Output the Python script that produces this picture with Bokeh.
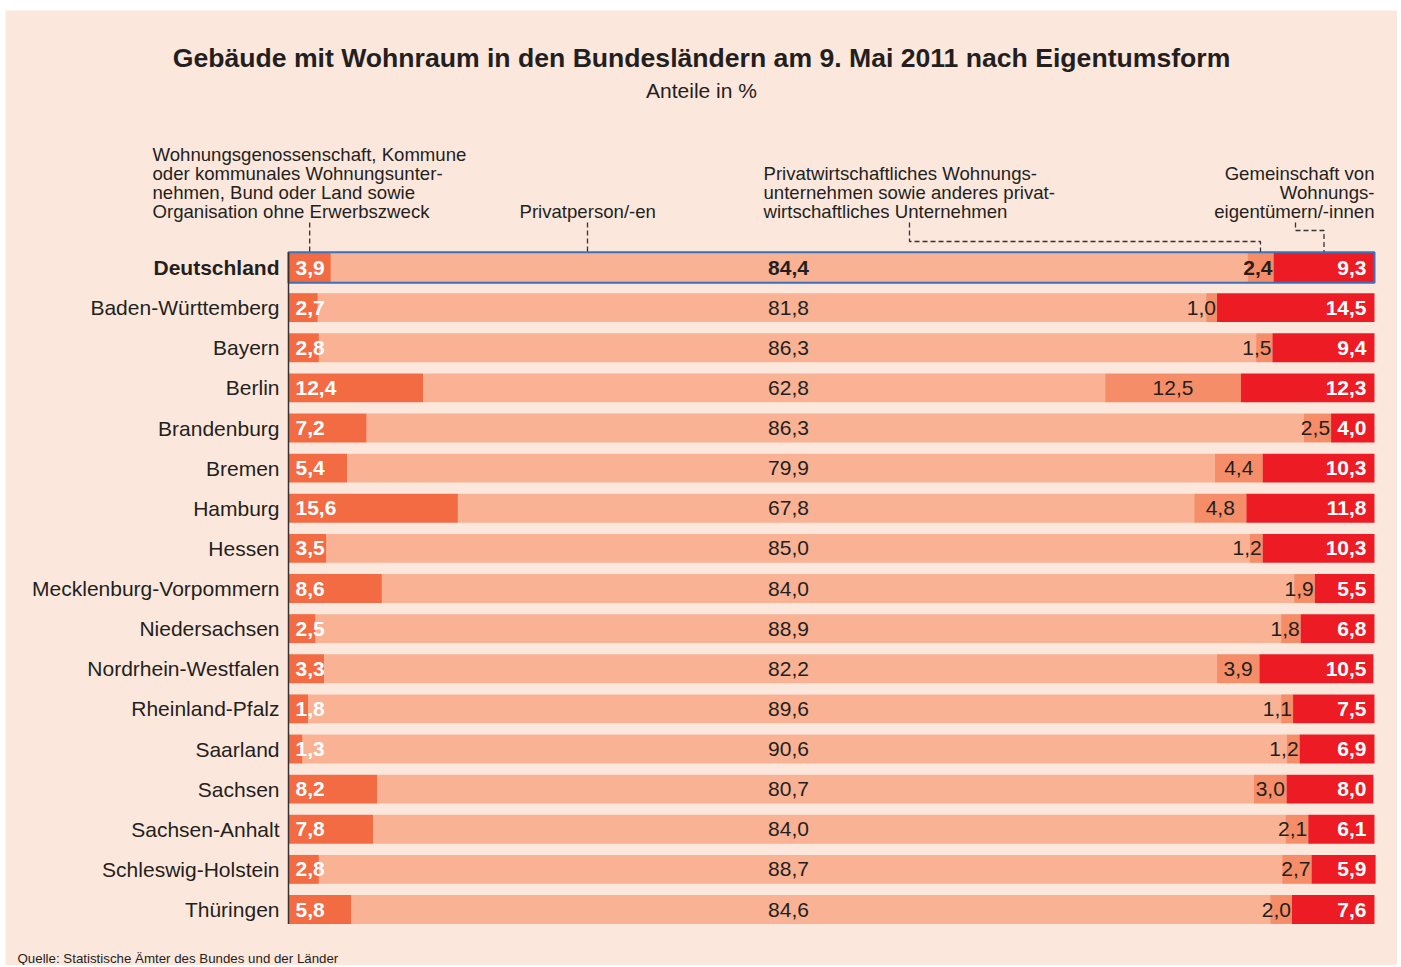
from bokeh.plotting import figure
from bokeh.models import ColumnDataSource, Range1d
from bokeh.core.properties import value
from bokeh.embed import file_html
from bokeh.resources import INLINE

# ---------------- data ----------------
states = ["Deutschland", "Baden-Württemberg", "Bayern", "Berlin", "Brandenburg",
          "Bremen", "Hamburg", "Hessen", "Mecklenburg-Vorpommern", "Niedersachsen",
          "Nordrhein-Westfalen", "Rheinland-Pfalz", "Saarland", "Sachsen",
          "Sachsen-Anhalt", "Schleswig-Holstein", "Thüringen"]
genossenschaft = [3.9, 2.7, 2.8, 12.4, 7.2, 5.4, 15.6, 3.5, 8.6, 2.5, 3.3, 1.8, 1.3, 8.2, 7.8, 2.8, 5.8]
privatperson = [84.4, 81.8, 86.3, 62.8, 86.3, 79.9, 67.8, 85.0, 84.0, 88.9, 82.2, 89.6, 90.6, 80.7, 84.0, 88.7, 84.6]
unternehmen = [2.4, 1.0, 1.5, 12.5, 2.5, 4.4, 4.8, 1.2, 1.9, 1.8, 3.9, 1.1, 1.2, 3.0, 2.1, 2.7, 2.0]
gemeinschaft = [9.3, 14.5, 9.4, 12.3, 4.0, 10.3, 11.8, 10.3, 5.5, 6.8, 10.5, 7.5, 6.9, 8.0, 6.1, 5.9, 7.6]

title_text = "Gebäude mit Wohnraum in den Bundesländern am 9. Mai 2011 nach Eigentumsform"
subtitle_text = "Anteile in %"
source_text = "Quelle: Statistische Ämter des Bundes und der Länder"

# ---------------- style ----------------
BG = "#FCE7DD"
COLORS = ["#F26B43", "#F9B294", "#F58D68", "#ED1C24"]
DARK = "#231F20"
FONT = value("Liberation Sans")

W, H = 1397, 965
FL, FT = 5, 10              # frame offset (white strip left / top)
X0, PX = 288.0, 10.86       # page px of 0 %, px per percent
Y0, ROW = 267.0, 40.125     # page px of first row centre, px per row


def cx(page_x):
    return (page_x - X0) / PX


def cy(page_y):
    return (page_y - Y0) / ROW


fmt = lambda v: f"{v:.1f}".replace(".", ",")

p = figure(width=W, height=H, output_backend="svg", toolbar_location=None,
           x_range=Range1d(cx(FL), cx(W)),
           y_range=Range1d(cy(H), cy(FT)),
           min_border=0, min_border_left=FL, min_border_right=0,
           min_border_top=FT, min_border_bottom=0)
p.axis.visible = False
p.grid.visible = False
p.outline_line_color = None
p.background_fill_color = BG
p.border_fill_color = "white"

n = len(states)
rows = list(range(n))
series = [genossenschaft, privatperson, unternehmen, gemeinschaft]
lefts = []
rights = []
acc = [0.0] * n
for s in series:
    l = list(acc)
    r = [a + v for a, v in zip(acc, s)]
    lefts.append(l)
    rights.append(r)
    acc = r

BAR_H = 0.72
for k in range(4):
    src = ColumnDataSource(dict(y=rows, left=lefts[k], right=rights[k]))
    p.hbar(y="y", left="left", right="right", height=BAR_H, source=src,
           fill_color=COLORS[k], line_color=None)

# Deutschland frame
p.quad(left=[0], right=[rights[3][0]], top=[-BAR_H / 2 - 0.02], bottom=[BAR_H / 2 + 0.02],
       fill_color=None, line_color="#3A72BE", line_width=2)

# left spine
p.segment(x0=[0], x1=[0], y0=[-BAR_H / 2 - 0.02], y1=[n - 1 + BAR_H / 2],
          line_color="#333333", line_width=1.5)

# ---------------- labels ----------------
def txt(x, y, t, size, color=DARK, align="left", style="normal", x_offset=0):
    p.text(x=x, y=y, text=t, text_font=FONT, text_font_size=size, text_color=color,
           text_align=align, text_baseline="middle", text_font_style=style,
           x_offset=x_offset)

VS = "21px"
# state names
txt([0], [0], [states[0]], VS, align="right", style="bold", x_offset=-9)
txt([0] * (n - 1), rows[1:], states[1:], VS, align="right", x_offset=-9)

# series 1 (white bold, left)
txt([0] * n, rows, [fmt(v) for v in genossenschaft], VS, color="white", style="bold", x_offset=7)

# series 2 (dark, fixed column)
MID = cx(788)
txt([MID], [0], [fmt(privatperson[0])], VS, align="center", style="bold")
txt([MID] * (n - 1), rows[1:], [fmt(v) for v in privatperson[1:]], VS, align="center")

# series 3 (dark: centred when wide enough, else right aligned at end)
cen_x, cen_y, cen_t, end_x, end_y, end_t = [], [], [], [], [], []
for i in range(1, n):
    v = unternehmen[i]
    if v >= 2.8:
        cen_x.append((lefts[2][i] + rights[2][i]) / 2); cen_y.append(i); cen_t.append(fmt(v))
    else:
        end_x.append(rights[2][i]); end_y.append(i); end_t.append(fmt(v))
txt(cen_x, cen_y, cen_t, VS, align="center")
txt(end_x, end_y, end_t, VS, align="right", x_offset=-1)
txt([rights[2][0]], [0], [fmt(unternehmen[0])], VS, align="right", style="bold", x_offset=-1)

# series 4 (white bold, right)
txt([100.0] * n, rows, [fmt(v) for v in gemeinschaft], VS, color="white", align="right",
    style="bold", x_offset=-8)

# ---------------- titles ----------------
mid_x = cx(701)
txt([mid_x], [cy(57)], [title_text], "26.6px", align="center", style="bold")
txt([mid_x], [cy(90)], [subtitle_text], "21px", align="center")
txt([cx(17)], [cy(958)], [source_text], "13.3px")

# ---------------- series annotations ----------------
ANN = "18.6px"
lines1 = ["Wohnungsgenossenschaft, Kommune", "oder kommunales Wohnungsunter-",
          "nehmen, Bund oder Land sowie", "Organisation ohne Erwerbszweck"]
txt([cx(152)] * 4, [cy(154 + 19 * i) for i in range(4)], lines1, ANN)
txt([cx(519)], [cy(211)], ["Privatperson/-en"], ANN)
lines3 = ["Privatwirtschaftliches Wohnungs-", "unternehmen sowie anderes privat-",
          "wirtschaftliches Unternehmen"]
txt([cx(763)] * 3, [cy(173 + 19 * i) for i in range(3)], lines3, ANN)
lines4 = ["Gemeinschaft von", "Wohnungs-", "eigentümern/-innen"]
txt([cx(1374)] * 3, [cy(173 + 19 * i) for i in range(3)], lines4, ANN, align="right")

# leader lines (dashed)
bar_top = -BAR_H / 2 - 0.03
d = dict(line_color="#333333", line_width=1.3, line_dash="5 3")
x1 = (lefts[0][0] + rights[0][0]) / 2
p.line(x=[x1, x1], y=[cy(222), bar_top], **d)
x2 = cx(587)
p.line(x=[x2, x2], y=[cy(222), bar_top], **d)
x3 = (lefts[2][0] + rights[2][0]) / 2
p.line(x=[cx(909), cx(909), x3, x3], y=[cy(222), cy(241), cy(241), bar_top], **d)
x4 = (lefts[3][0] + rights[3][0]) / 2
p.line(x=[cx(1295), cx(1295), x4, x4], y=[cy(222), cy(230), cy(230), bar_top], **d)

open("out.html", "w").write(file_html(p, INLINE))
